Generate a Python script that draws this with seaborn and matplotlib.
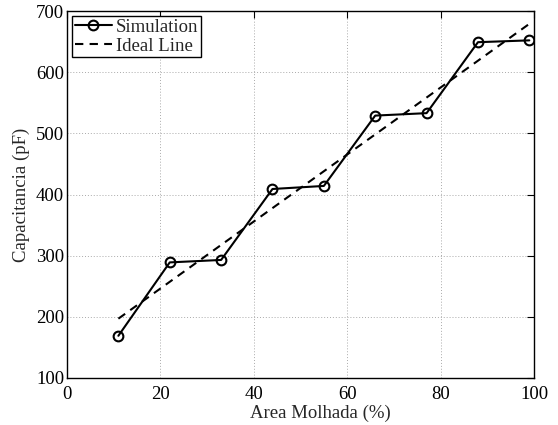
import matplotlib
matplotlib.use("Agg")
import matplotlib.pyplot as plt
import seaborn as sns
import pandas as pd

area = [11, 22, 33, 44, 55, 66, 77, 88, 99]
simulation = [169, 289, 293, 409, 414, 529, 533, 649, 652]
ideal_x = [11, 99]
ideal_y = [197, 679]

sns.set_style("white")
plt.rcParams['font.family'] = ['Liberation Serif', 'DejaVu Serif']
plt.rcParams['mathtext.fontset'] = 'stix'

fig = plt.figure(figsize=(5.58, 4.25), dpi=100)
ax = fig.add_axes([67/558, 1 - 378/425, (534-67)/558, (378-11)/425])

sim_df = pd.DataFrame({"x": area, "y": simulation})
ideal_df = pd.DataFrame({"x": ideal_x, "y": ideal_y})

sns.lineplot(data=sim_df, x="x", y="y", ax=ax, color="black", linewidth=1.5,
             marker="o", markersize=7, markerfacecolor="none", markeredgecolor="black",
             markeredgewidth=1.5, label="Simulation")
sns.lineplot(data=ideal_df, x="x", y="y", ax=ax, color="black", linewidth=1.5,
             linestyle=(0, (4, 3)), label="Ideal Line")

ax.set_xlim(0, 100)
ax.set_ylim(100, 700)
ax.set_xticks([0, 20, 40, 60, 80, 100])
ax.set_yticks([100, 200, 300, 400, 500, 600, 700])
ax.grid(True, color="#aaaaaa", linestyle=(0, (1, 2)), linewidth=0.7)
for s in ax.spines.values():
    s.set_visible(True)
    s.set_color("black")
    s.set_linewidth(1.0)
ax.tick_params(direction="in", top=True, right=True, length=5, width=0.8,
               labelsize=13.5, colors="black", pad=2)
ax.tick_params(axis="x", pad=6)
ax.set_xlabel("Area Molhada (%)", fontsize=13.5)
ax.set_ylabel("Capacitancia (pF)", fontsize=13.5)
ax.xaxis.set_label_coords(0.542, -0.074)
ax.yaxis.set_label_coords(-0.079, 0.5)

leg = ax.legend(loc="upper left", fontsize=13.5, frameon=True, fancybox=False,
                edgecolor="black", framealpha=1, borderaxespad=0.25,
                handlelength=2.0, handletextpad=0.2, borderpad=0.15, labelspacing=0.1)
leg.get_frame().set_linewidth(1.0)

fig.savefig("out.png", dpi=100)
